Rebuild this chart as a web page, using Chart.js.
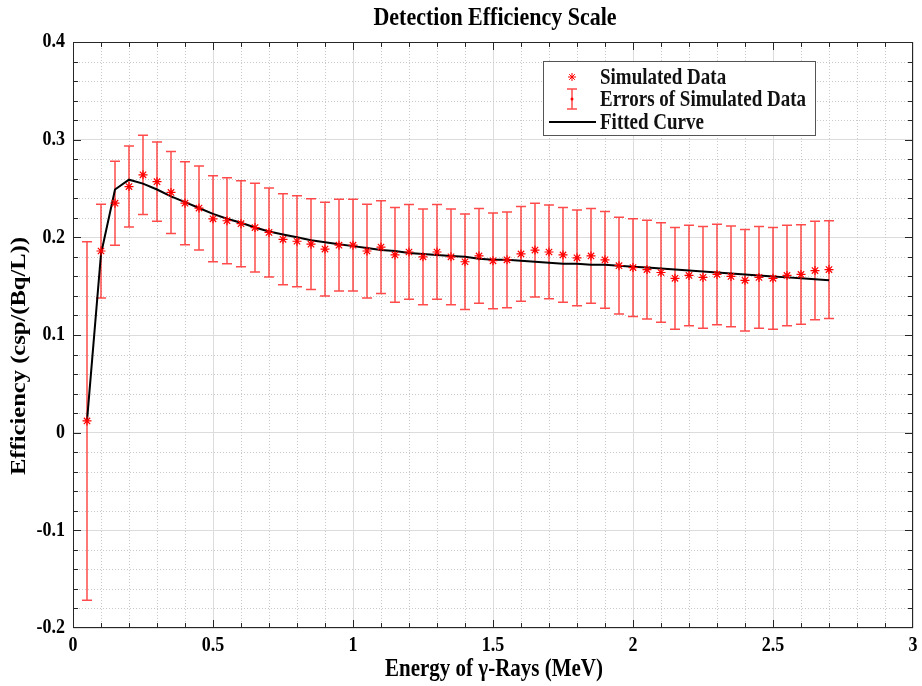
<!DOCTYPE html>
<html>
<head>
<meta charset="utf-8">
<script src="https://cdn.jsdelivr.net/npm/chart.js@4.4.1/dist/chart.umd.min.js"></script>
<style>
  html, body { margin: 0; padding: 0; background: #fff; }
  #wrap { width: 922px; height: 686px; }
</style>
</head>
<body>
<div id="wrap"><canvas id="chart" width="922" height="686"></canvas></div>
<script>
// energy (MeV), simulated efficiency, error half-width, fitted curve
var energy = [0.05, 0.1, 0.15, 0.2, 0.25, 0.3, 0.35, 0.4, 0.45, 0.5,
    0.55, 0.6, 0.65, 0.7, 0.75, 0.8, 0.85, 0.9, 0.95, 1.0,
    1.05, 1.1, 1.15, 1.2, 1.25, 1.3, 1.35, 1.4, 1.45, 1.5,
    1.55, 1.6, 1.65, 1.7, 1.75, 1.8, 1.85, 1.9, 1.95, 2.0,
    2.05, 2.1, 2.15, 2.2, 2.25, 2.3, 2.35, 2.4, 2.45, 2.5,
    2.55, 2.6, 2.65, 2.7];

var efficiency = [0.012, 0.186, 0.235, 0.252, 0.264, 0.257, 0.246, 0.235, 0.230, 0.219,
    0.217, 0.214, 0.210, 0.205, 0.198, 0.196, 0.193, 0.188, 0.192, 0.192,
    0.186, 0.190, 0.182, 0.185, 0.180, 0.185, 0.180, 0.175, 0.181, 0.176,
    0.177, 0.183, 0.187, 0.185, 0.182, 0.179, 0.181, 0.177, 0.171, 0.169,
    0.167, 0.164, 0.158, 0.161, 0.159, 0.162, 0.160, 0.156, 0.159, 0.158,
    0.161, 0.162, 0.166, 0.167];

var errors = [0.1835, 0.048, 0.043, 0.0415, 0.0405, 0.0405, 0.042, 0.0425, 0.043, 0.044,
    0.044, 0.044, 0.0455, 0.0455, 0.0465, 0.0465, 0.0465, 0.048, 0.047, 0.047,
    0.048, 0.0475, 0.0485, 0.0485, 0.049, 0.0485, 0.049, 0.049, 0.0485, 0.049,
    0.049, 0.0485, 0.048, 0.048, 0.0485, 0.049, 0.0485, 0.0495, 0.0495, 0.050,
    0.0505, 0.051, 0.052, 0.0515, 0.052, 0.0515, 0.0515, 0.052, 0.052, 0.052,
    0.0515, 0.051, 0.0505, 0.050];

var fitted = [0.012, 0.183, 0.249, 0.259, 0.255, 0.249, 0.242, 0.236, 0.230, 0.224,
    0.219, 0.215, 0.210, 0.206, 0.203, 0.200, 0.197, 0.195, 0.193, 0.191,
    0.189, 0.187, 0.186, 0.184, 0.183, 0.182, 0.181, 0.180, 0.178, 0.177,
    0.177, 0.176, 0.175, 0.174, 0.173, 0.173, 0.172, 0.172, 0.171, 0.170,
    0.169, 0.168, 0.167, 0.166, 0.165, 0.164, 0.163, 0.162, 0.161, 0.160,
    0.159, 0.158, 0.157, 0.156];

var TITLE = 'Detection Efficiency Scale';
var X_TITLE = 'Energy of \u03b3-Rays (MeV)';
var Y_TITLE = 'Efficiency (csp/(Bq/L))';
var LEGEND_LABELS = ['Simulated Data', 'Errors of Simulated Data', 'Fitted Curve'];

var SERIF = "'Liberation Serif', 'Times New Roman', serif";
var ERR_COLOR = 'rgba(255, 30, 30, 0.8)';
var STRETCH = 1.17; // the source figure's text looks vertically stretched

function toPoints(xs, ys) {
    let pts = [];
    for (let i = 0; i < xs.length; i++) {
        pts.push({x: xs[i], y: ys[i]});
    }
    return pts;
}

function fmt(v) {
    return String(Number(v.toFixed(2)));
}

// text drawn taller than wide, like the reference
function tallText(ctx, txt, x, y, size, align) {
    ctx.save();
    ctx.translate(x, y);
    ctx.scale(1, STRETCH);
    ctx.font = 'bold ' + size + 'px ' + SERIF;
    ctx.textAlign = align || 'center';
    ctx.textBaseline = 'middle';
    ctx.fillText(txt, 0, 0);
    ctx.restore();
}

function drawStar(ctx, x, y, r) {
    let d = r * Math.SQRT1_2;
    ctx.beginPath();
    ctx.moveTo(x - r, y); ctx.lineTo(x + r, y);
    ctx.moveTo(x, y - r); ctx.lineTo(x, y + r);
    ctx.moveTo(x - d, y - d); ctx.lineTo(x + d, y + d);
    ctx.moveTo(x - d, y + d); ctx.lineTo(x + d, y - d);
    ctx.stroke();
}

// minor dotted grid + error bars under the datasets
var underlayPlugin = {
    id: 'underlay',
    beforeDatasetsDraw: function (chart) {
        let ctx = chart.ctx;
        let xs = chart.scales.x, ys = chart.scales.y;
        let area = chart.chartArea;
        ctx.save();
        ctx.strokeStyle = '#c9c9c9';
        ctx.lineWidth = 1;
        ctx.setLineDash([1, 2]);
        for (let i = 1; i < 30; i++) {
            if (i % 5 === 0) continue;
            let px = Math.round(xs.getPixelForValue(i / 10)) + 0.5;
            ctx.beginPath();
            ctx.moveTo(px, area.top);
            ctx.lineTo(px, area.bottom);
            ctx.stroke();
        }
        for (let j = -10; j < 20; j++) {
            if (j % 5 === 0) continue;
            let py = Math.round(ys.getPixelForValue(j * 0.02)) + 0.5;
            ctx.beginPath();
            ctx.moveTo(area.left, py);
            ctx.lineTo(area.right, py);
            ctx.stroke();
        }
        ctx.setLineDash([]);

        // error bars
        ctx.strokeStyle = ERR_COLOR;
        ctx.lineWidth = 1.5;
        for (let i = 0; i < energy.length; i++) {
            let px = xs.getPixelForValue(energy[i]);
            let top = ys.getPixelForValue(efficiency[i] + errors[i]);
            let bot = ys.getPixelForValue(efficiency[i] - errors[i]);
            ctx.beginPath();
            ctx.moveTo(px, top); ctx.lineTo(px, bot);
            ctx.moveTo(px - 5, top); ctx.lineTo(px + 5, top);
            ctx.moveTo(px - 5, bot); ctx.lineTo(px + 5, bot);
            ctx.stroke();
        }
        ctx.restore();
    }
};

// frame, inward ticks, tick labels, titles and legend box
var overlayPlugin = {
    id: 'overlay',
    afterDraw: function (chart) {
        let ctx = chart.ctx;
        let xs = chart.scales.x, ys = chart.scales.y;
        let a = chart.chartArea;
        ctx.save();
        ctx.strokeStyle = '#262626';
        ctx.lineWidth = 1;
        ctx.strokeRect(Math.round(a.left) + 0.5, Math.round(a.top) + 0.5,
            Math.round(a.right - a.left) - 1, Math.round(a.bottom - a.top) - 1);

        ctx.beginPath();
        for (let i = 1; i < 30; i++) {
            let len = (i % 5 === 0) ? 8 : 5;
            let px = Math.round(xs.getPixelForValue(i / 10)) + 0.5;
            ctx.moveTo(px, a.bottom); ctx.lineTo(px, a.bottom - len);
            ctx.moveTo(px, a.top); ctx.lineTo(px, a.top + len);
        }
        for (let j = -9; j < 20; j++) {
            let len = (j % 5 === 0) ? 8 : 5;
            let py = Math.round(ys.getPixelForValue(j * 0.02)) + 0.5;
            ctx.moveTo(a.left, py); ctx.lineTo(a.left + len, py);
            ctx.moveTo(a.right, py); ctx.lineTo(a.right - len, py);
        }
        ctx.stroke();

        // tick labels from the scales' own ticks
        ctx.fillStyle = '#000';
        xs.ticks.forEach(function (t) {
            tallText(ctx, fmt(t.value), xs.getPixelForValue(t.value), a.bottom + 18, 18, 'center');
        });
        ys.ticks.forEach(function (t) {
            tallText(ctx, fmt(t.value), a.left - 8, ys.getPixelForValue(t.value), 18, 'right');
        });

        // titles
        tallText(ctx, TITLE, 495, 18, 22, 'center');
        tallText(ctx, X_TITLE, 494, 670, 21, 'center');
        ctx.save();
        ctx.translate(20, 356);
        ctx.rotate(-Math.PI / 2);
        ctx.scale(STRETCH, 1);
        ctx.font = 'bold 21px ' + SERIF;
        ctx.textAlign = 'center';
        ctx.textBaseline = 'middle';
        ctx.fillText(Y_TITLE, 0, 0);
        ctx.restore();

        // legend
        let lx = 543, ly = 61, lw = 272, lh = 74;
        ctx.fillStyle = '#fff';
        ctx.fillRect(lx, ly, lw, lh);
        ctx.strokeStyle = '#555';
        ctx.lineWidth = 1;
        ctx.strokeRect(lx + 0.5, ly + 0.5, lw, lh);

        let rows = [77, 99, 122];
        let sx = 572;
        ctx.strokeStyle = 'red';
        ctx.lineWidth = 1;
        drawStar(ctx, sx, rows[0], 4);

        ctx.strokeStyle = ERR_COLOR;
        ctx.lineWidth = 1.5;
        ctx.beginPath();
        ctx.moveTo(sx, rows[1] - 10); ctx.lineTo(sx, rows[1] + 10);
        ctx.moveTo(sx - 5, rows[1] - 10); ctx.lineTo(sx + 5, rows[1] - 10);
        ctx.moveTo(sx - 5, rows[1] + 10); ctx.lineTo(sx + 5, rows[1] + 10);
        ctx.stroke();
        ctx.fillStyle = 'red';
        ctx.beginPath();
        ctx.arc(sx, rows[1], 1.5, 0, Math.PI * 2);
        ctx.fill();

        ctx.strokeStyle = '#000';
        ctx.lineWidth = 2;
        ctx.beginPath();
        ctx.moveTo(549, rows[2]); ctx.lineTo(596, rows[2]);
        ctx.stroke();

        ctx.fillStyle = '#111';
        for (let k = 0; k < LEGEND_LABELS.length; k++) {
            tallText(ctx, LEGEND_LABELS[k], 600, rows[k] + 1, 19, 'left');
        }
        ctx.restore();
    }
};

var ctx = document.getElementById('chart');
new Chart(ctx, {
    type: 'scatter',
    data: {
        datasets: [{
            label: LEGEND_LABELS[0],
            data: toPoints(energy, efficiency),
            pointStyle: 'star',
            pointRadius: 4.5,
            pointBorderWidth: 1.2,
            borderColor: 'red',
            backgroundColor: 'red',
            showLine: false,
        }, {
            label: LEGEND_LABELS[2],
            data: toPoints(energy, fitted),
            showLine: true,
            borderColor: '#000',
            borderWidth: 2,
            pointRadius: 0,
            fill: false,
            tension: 0,
        }]
    },
    options: {
        responsive: false,
        animation: false,
        devicePixelRatio: 1,
        layout: {padding: {top: 42, right: 9, bottom: 0, left: 0}},
        plugins: {
            legend: {display: false},
            title: {display: false},
            tooltip: {enabled: false},
        },
        scales: {
            x: {
                type: 'linear',
                min: 0,
                max: 3,
                afterFit: function (scale) { scale.height = 58; },
                ticks: {
                    stepSize: 0.5,
                    display: false,
                },
                grid: {color: '#dcdcdc', drawTicks: false},
                border: {display: false},
            },
            y: {
                type: 'linear',
                min: -0.2,
                max: 0.4,
                afterFit: function (scale) { scale.width = 73; },
                ticks: {
                    stepSize: 0.1,
                    display: false,
                },
                grid: {color: '#dcdcdc', drawTicks: false},
                border: {display: false},
            }
        }
    },
    plugins: [underlayPlugin, overlayPlugin]
});
</script>
</body>
</html>
